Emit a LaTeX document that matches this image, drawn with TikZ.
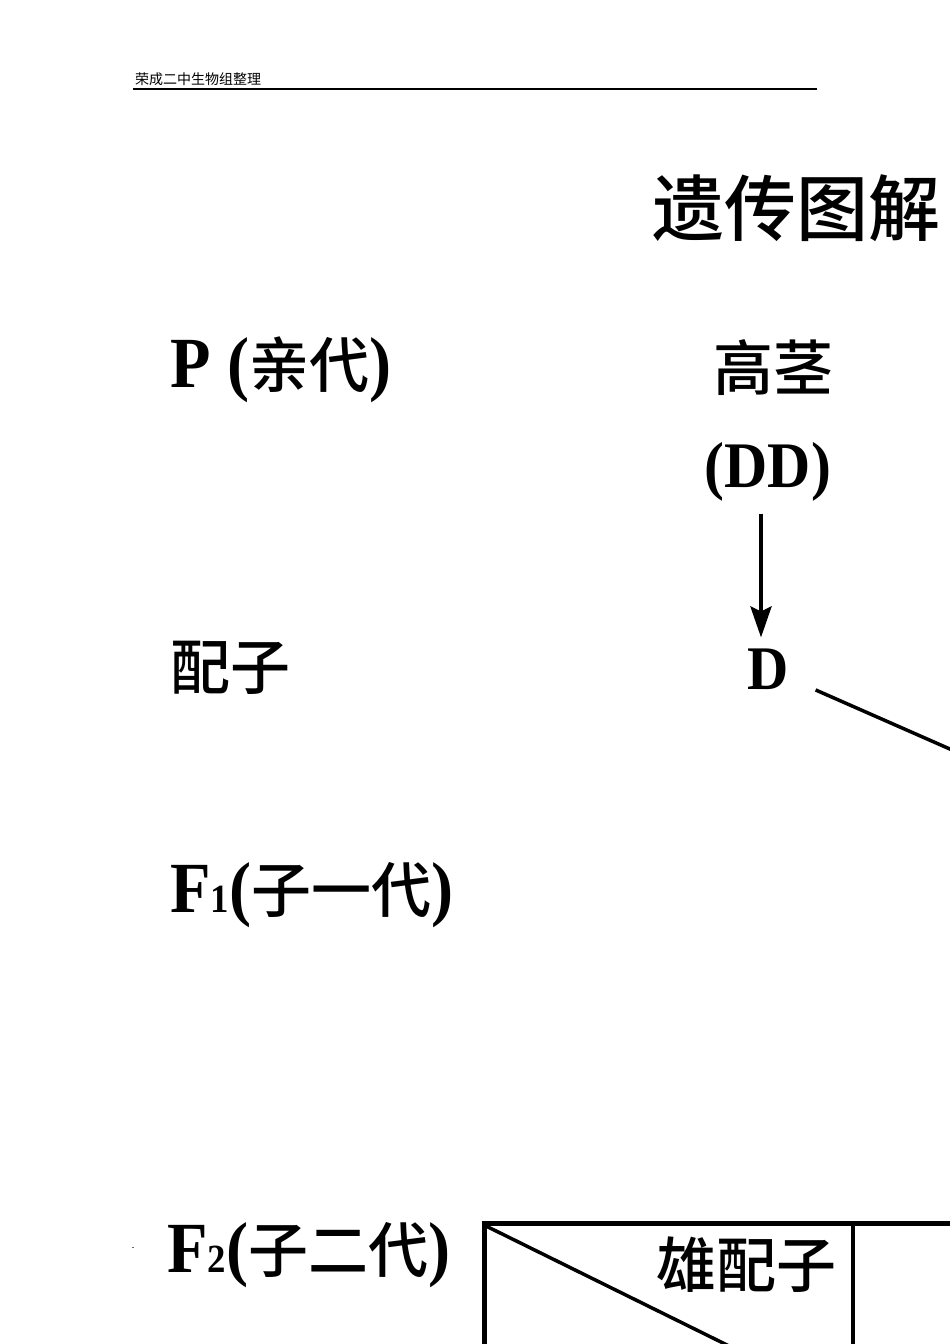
\documentclass[tikz,border=0pt]{standalone}
\usepackage{fontspec}
\newfontfamily\cjk{Noto Sans CJK SC}
\newfontfamily\cjkm{Noto Sans CJK SC}[UprightFont=* Medium]
\newfontfamily\lat[FakeStretch=0.92]{Liberation Serif}
\usetikzlibrary{arrows.meta}
\newcommand\lt[2][72]{{\fontsize{#1}{#1}\selectfont\lat\bfseries #2}}
\tikzset{
  lbl/.style={inner sep=0pt, font={\fontsize{60}{66}\selectfont\cjkm}},
  conn/.style={line width=4pt},
  rule/.style={line width=5pt},
}
\begin{document}
\begin{tikzpicture}[x=1pt,y=-1pt]
\useasboundingbox (0,0) rectangle (950,1344);
\clip (0,0) rectangle (950,1344);
\fill[white] (0,0) rectangle (950,1344);
% header
\node[inner sep=0pt, anchor=west, font={\fontsize{14}{16}\selectfont\cjk}] (hdr) at (135,79) {荣成二中生物组整理};
\draw[line width=1.3pt] (133,89) -- (817,89);
% title
\node[inner sep=0pt, font={\fontsize{72}{80}\selectfont\cjkm}] (title) at (796,208) {遗传图解};
% row labels
\node[lbl, anchor=west] (pl) at (170,370) {\lt{P }\lt{(}亲代\lt{)}};
\node[lbl, anchor=west] (gl) at (170,668) {配子};
\node[lbl, anchor=west] (f1) at (170,895) {\lt{F}\lt[40]{1}\lt{(}子一代\lt{)}};
\node[lbl, anchor=west] (f2) at (167,1255) {\lt{F}\lt[40]{2}\lt{(}子二代\lt{)}};
% parent
\node[lbl] (tall) at (773,368) {高茎};
\node[lbl] (dd) at (768,472) {\lt[65]{(DD)}};
\node[lbl] (gd) at (768,669) {\lt[62]{D}};
\draw[conn, -{Stealth[width=21pt,length=31pt,inset=5pt]}, shorten <=12pt, shorten >=11pt]
  ([xshift=-7pt]dd.south) -- ([xshift=-7pt]gd.north);
\coordinate (cross) at (1084,808);
\draw[conn, line width=3.5pt, shorten <=52pt] (gd.center) -- (cross);
% tiny mark
\fill[black!60] (132,1246.5) rectangle (134,1247.8);
% table
\draw[rule] (484,1223.5) -- (1100,1223.5);
\draw[rule] (484,1221) -- (484,1400);
\draw[line width=4pt] (852.5,1223.5) -- (852.5,1400);
\coordinate (tl) at (486,1226);
\coordinate (diagend) at (960,1460);
\draw[line width=3.5pt] (tl) -- (diagend);
\node[lbl] (male) at (746,1265) {雄配子};
\end{tikzpicture}
\end{document}
